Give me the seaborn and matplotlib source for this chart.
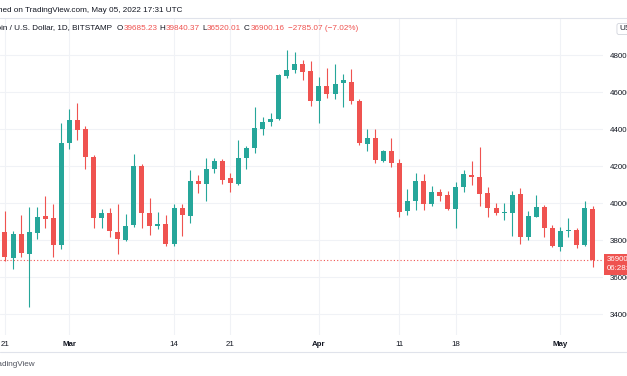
import numpy as np
import pandas as pd
import matplotlib
matplotlib.use("Agg")
import matplotlib.pyplot as plt
from matplotlib.lines import Line2D
import seaborn as sns

# daily candles, BTC/USD Bitstamp, Feb 21 - May 5 2022
dates = pd.date_range("2022-02-21", "2022-05-05", freq="D")
opens = [38430, 37030, 38320, 37240, 38380, 39300, 39190, 37730, 43240, 44490,
         44000, 42490, 39190, 39460, 38430, 38000, 38810, 42000, 39460, 38760,
         38870, 37780, 39730, 39300, 41190, 41030, 41840, 42270, 41350, 41030,
         42430, 42970, 44000, 44380, 44540, 46860, 47190, 47510, 47140, 45510,
         46320, 45890, 46490, 46540, 45510, 43190, 43510, 42270, 42810, 42160,
         39570, 40110, 41190, 39950, 40590, 40430, 39680, 40860, 41510, 41400,
         40540, 39730, 39460, 39460, 40490, 38160, 39240, 39780, 38650, 37620,
         38490, 38540, 37730, 39685.23]
highs = [39570, 38490, 39350, 39780, 39780, 40380, 39950, 44320, 45080, 45400,
         44160, 42600, 39680, 39730, 39950, 39410, 42650, 42110, 40270, 39510,
         39350, 39950, 39950, 41780, 41510, 42430, 42430, 42380, 41620, 43400,
         43080, 45190, 44650, 44860, 46970, 48270, 48160, 47730, 47680, 46810,
         47300, 47510, 46970, 47240, 45620, 44000, 44000, 42860, 43510, 42380,
         40760, 41620, 41570, 40920, 40760, 40650, 41140, 41780, 42270, 43030,
         40860, 40000, 40000, 40650, 40810, 39570, 40430, 39890, 38810, 38700,
         39190, 38650, 40110, 39840.37]
lows = [36850, 36430, 37080, 34380, 38050, 38650, 37080, 37510, 42920, 43400,
        41840, 38650, 38650, 38160, 37240, 37950, 38700, 38650, 38270, 38590,
        37680, 37680, 38220, 38920, 40540, 40110, 41620, 41030, 40590, 40970,
        41840, 42700, 43680, 44160, 44490, 46760, 47030, 46650, 45240, 44320,
        45680, 45620, 45190, 45350, 43140, 42810, 42160, 42220, 41950, 39240,
        39350, 39620, 39620, 39840, 40110, 39620, 38650, 40590, 40970, 39840,
        39240, 39350, 39080, 38220, 37780, 38000, 39240, 38160, 37620, 37410,
        38160, 37570, 37700, 36520.01]
closes = [37080, 38320, 37300, 38430, 39240, 39140, 37730, 43240, 44490, 43950,
          42490, 39190, 39460, 38490, 38050, 38760, 42000, 39460, 38760, 38870,
          37780, 39730, 39350, 41190, 41030, 41840, 42270, 41240, 41080, 42430,
          42970, 44050, 44380, 44540, 46920, 47190, 47510, 47080, 45510, 46320,
          45890, 46430, 46650, 45510, 43240, 43510, 42320, 42810, 42160, 39510,
          40110, 41190, 39950, 40590, 40380, 39680, 40860, 41570, 41400, 40490,
          39730, 39460, 39510, 40430, 38160, 39300, 39780, 38650, 37680, 38490,
          38540, 37730, 39730, 36900.16]

tick_dates = ["2022-02-21", "2022-03-01", "2022-03-14", "2022-03-21",
              "2022-04-01", "2022-04-11", "2022-04-18", "2022-05-01"]
tick_labels = ["21", "Mar", "14", "21", "Apr", "11", "18", "May"]
price_ticks = [34000, 36000, 38000, 40000, 42000, 44000, 46000, 48000]

UP = "#26a69a"
DOWN = "#ef5350"
TXT = "#131722"
GRID = "#f0f2f6"

df = pd.DataFrame({"date": dates, "open": opens, "high": highs,
                   "low": lows, "close": closes})
df["x"] = np.arange(len(df))
df["up"] = df["close"] >= df["open"]
df["color"] = np.where(df["up"], UP, DOWN)
df["bottom"] = df[["open", "close"]].min(axis=1)
df["height"] = (df["close"] - df["open"]).abs().clip(lower=40)

sns.set_theme(style="white")
plt.rcParams["font.family"] = ["Liberation Sans", "DejaVu Sans"]

W, H = 627, 376
fig = plt.figure(figsize=(W / 100, H / 100), dpi=100)
fig.patch.set_facecolor("white")
ax = fig.add_axes([0, 1 - 335 / H, 603 / W, (335 - 18) / H])


def fpos(px, py):
    return px / W, 1 - py / H


# wicks + bodies
ax.vlines(df["x"], df["low"], df["high"], colors=df["color"], linewidth=0.8, zorder=2)
ax.bar(df["x"], df["height"], bottom=df["bottom"], width=0.62,
       color=df["color"], linewidth=0, zorder=3)

# last price line
last = df["close"].iloc[-1]
ax.axhline(last, color=DOWN, linestyle=(0, (1, 2)), linewidth=0.8, zorder=1)

ax.set_xlim(-0.62, 74.29)
ax.set_ylim(32865, 50000)

tick_pos = [df.index[df["date"] == pd.Timestamp(d)][0] for d in tick_dates]
ax.set_xticks(tick_pos)
ax.set_xticklabels(tick_labels)
for lab in ax.get_xticklabels():
    if lab.get_text() in ("Mar", "Apr", "May"):
        lab.set_fontweight("bold")
ax.yaxis.tick_right()
ax.set_yticks(price_ticks)
ax.set_yticklabels([str(p) for p in price_ticks])
ax.tick_params(axis="both", length=0, labelsize=5.7, colors=TXT)
ax.tick_params(axis="y", pad=5)
ax.tick_params(axis="x", pad=4)
ax.grid(True, color=GRID, linewidth=0.8)
for s in ax.spines.values():
    s.set_visible(False)

# price label on the right scale
ax.annotate(f"{last:.2f}\n06:28:29", xy=(1.0, last),
            xycoords=("axes fraction", "data"), xytext=(4, 4),
            textcoords="offset pixels", ha="left", va="top",
            color="white", fontsize=5.7, linespacing=1.35,
            bbox=dict(boxstyle="square,pad=0.35", fc=DOWN, ec="none"),
            annotation_clip=False, zorder=5)

# header
fig.text(*fpos(182, 10), "Published on TradingView.com, May 05, 2022 17:31 UTC",
         ha="right", va="center", fontsize=5.9, color=TXT)
fig.add_artist(Line2D([0, 1], [1 - 17.5 / H] * 2, color="#e0e3eb", linewidth=0.8))
fig.text(*fpos(112, 28), "Bitcoin / U.S. Dollar, 1D, BITSTAMP",
         ha="right", va="center", fontsize=5.9, color=TXT)

renderer = fig.canvas.get_renderer()
vals = [("O", opens[-1], 117), ("H", highs[-1], 159),
        ("L", lows[-1], 202), ("C", closes[-1], 244)]
for key, v, px in vals:
    t = fig.text(*fpos(px, 28), key, ha="left", va="center", fontsize=5.9, color=TXT)
    kw = t.get_window_extent(renderer).width
    fig.text(*fpos(px + kw + 0.5, 28), f"{v:.2f}", ha="left", va="center",
             fontsize=5.9, color=DOWN)
fig.text(*fpos(288, 28), "\u22122785.07 (\u22127.02%)", ha="left", va="center",
         fontsize=5.9, color=DOWN)
fig.text(*fpos(619, 29), "USD", ha="left", va="center", fontsize=5.9, color=TXT,
         bbox=dict(boxstyle="round,pad=0.25", fc="white", ec="#d1d4dc", lw=0.6))

# footer
fig.add_artist(Line2D([0, 1], [1 - 352 / H] * 2, color="#e0e3eb", linewidth=0.8))
fig.text(*fpos(35, 364), "TradingView", ha="right", va="center",
         fontsize=5.9, color="#50535e")

fig.savefig("out.png", dpi=100)
